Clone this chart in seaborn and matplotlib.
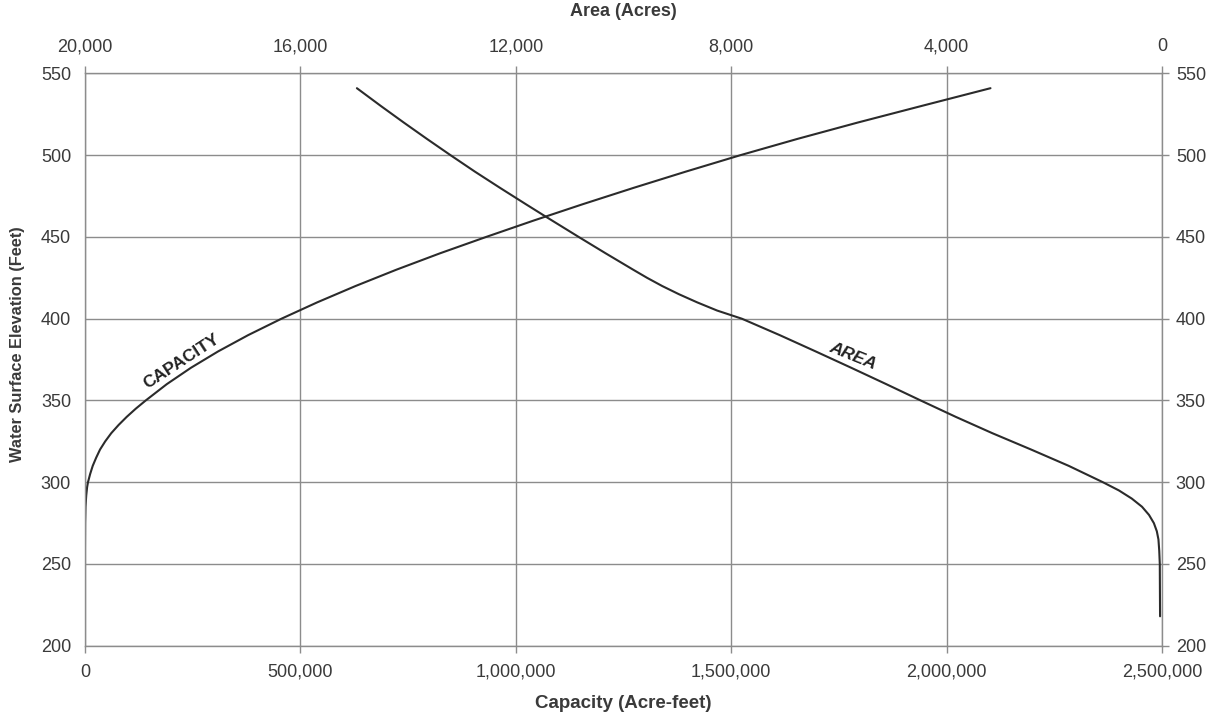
import matplotlib
matplotlib.use('Agg')
import matplotlib.pyplot as plt
from matplotlib.ticker import FuncFormatter
import pandas as pd
import seaborn as sns

# capacity curve (acre-feet vs feet)
cap_elev = [219.5, 260, 275, 285, 292, 297, 300, 305, 310, 315, 320, 325, 330,
            335, 340, 345, 350, 360, 370, 380, 390, 400, 410, 420, 430, 440,
            450, 460, 470, 480, 490, 500, 510, 520, 530, 541]
cap_acft = [0, 0, 300, 1200, 3000, 5000, 7000, 12000, 18000, 26000, 35000,
            47000, 61000, 78000, 97000, 118000, 141000, 190000, 246000, 309000,
            379000, 456000, 539000, 628000, 723000, 824000, 931000, 1041000,
            1155000, 1273000, 1395000, 1521000, 1654000, 1794000, 1940000,
            2102000]

# area curve (acres vs feet)
area_elev = [541, 530, 520, 510, 500, 490, 480, 470, 463, 450, 440, 430, 425,
             420, 415, 410, 405, 400, 390, 380, 370, 360, 350, 340, 330, 320,
             310, 300, 295, 290, 285, 280, 275, 270, 265, 258, 250, 218]
area_ac = [14950, 14500, 14080, 13650, 13210, 12760, 12290, 11810, 11470,
           10830, 10330, 9820, 9560, 9280, 8970, 8630, 8260, 7800, 7100, 6430,
           5770, 5120, 4480, 3830, 3150, 2430, 1730, 1096, 800, 560, 370, 240,
           150, 95, 65, 50, 40, 35]

cap_ticks = [0, 500000, 1000000, 1500000, 2000000, 2500000]
area_ticks = [20000, 16000, 12000, 8000, 4000, 0]
elev_ticks = [200, 250, 300, 350, 400, 450, 500, 550]

cap_df = pd.DataFrame({'cap': cap_acft, 'elev': cap_elev})
area_df = pd.DataFrame({'area': area_ac, 'elev': area_elev})

sns.set_style('white')
plt.rcParams['font.family'] = ['Liberation Sans', 'DejaVu Sans']

grid_c = '#8c8c8c'
txt_c = '#3a3a3a'
line_c = '#2b2b2b'
fmt = FuncFormatter(lambda v, p: f'{int(v):,}')

fig = plt.figure(figsize=(12.12, 7.19), dpi=100)
ax = fig.add_axes([0.0701, 0.1019, 0.8886, 0.7959])

sns.lineplot(data=cap_df, x='cap', y='elev', ax=ax, sort=False, estimator=None,
             color=line_c, lw=1.5)
ax.set_xlim(0, 2500000)
ax.set_ylim(200, 550)
ax.set_xticks(cap_ticks)
ax.set_yticks(elev_ticks)
ax.xaxis.set_major_formatter(fmt)
ax.grid(True, color=grid_c, lw=1.0)
ax.set_axisbelow(True)
ax.tick_params(axis='both', colors=grid_c, labelcolor=txt_c, labelsize=13,
               direction='out', length=5, width=1.0)
ax.tick_params(axis='x', pad=8)
ax.tick_params(axis='y', pad=5, right=True, labelright=True)
ax.set_xlabel('Capacity (Acre-feet)', fontsize=13.5, fontweight='bold',
              color=txt_c, labelpad=10)
ax.set_ylabel('Water Surface Elevation (Feet)', fontsize=11.8,
              fontweight='bold', color=txt_c)
ax.yaxis.set_label_coords(-0.0557, 0.527)
for s in ax.spines.values():
    s.set_color(grid_c)
    s.set_linewidth(1.0)

ax2 = ax.twiny()
sns.lineplot(data=area_df, x='area', y='elev', ax=ax2, sort=False,
             estimator=None, color=line_c, lw=1.5)
ax2.set_xlim(20000, 0)
ax2.set_xticks(area_ticks)
ax2.xaxis.set_major_formatter(fmt)
ax2.tick_params(axis='x', colors=grid_c, labelcolor=txt_c, labelsize=13,
                direction='out', length=5, width=1.0, pad=8)
ax2.set_xlabel('Area (Acres)', fontsize=13, fontweight='bold', color=txt_c,
               labelpad=16)
ax2.grid(False)
for s in ax2.spines.values():
    s.set_visible(False)

ax.text(225000, 374, 'CAPACITY', rotation=33, ha='center', va='center',
        fontsize=12.5, fontweight='bold', color='#222222')
ax2.text(5738, 377, 'AREA', rotation=-22, ha='center', va='center',
         fontsize=12.5, fontweight='bold', style='italic', color='#222222')

fig.savefig('out.png', dpi=100)
